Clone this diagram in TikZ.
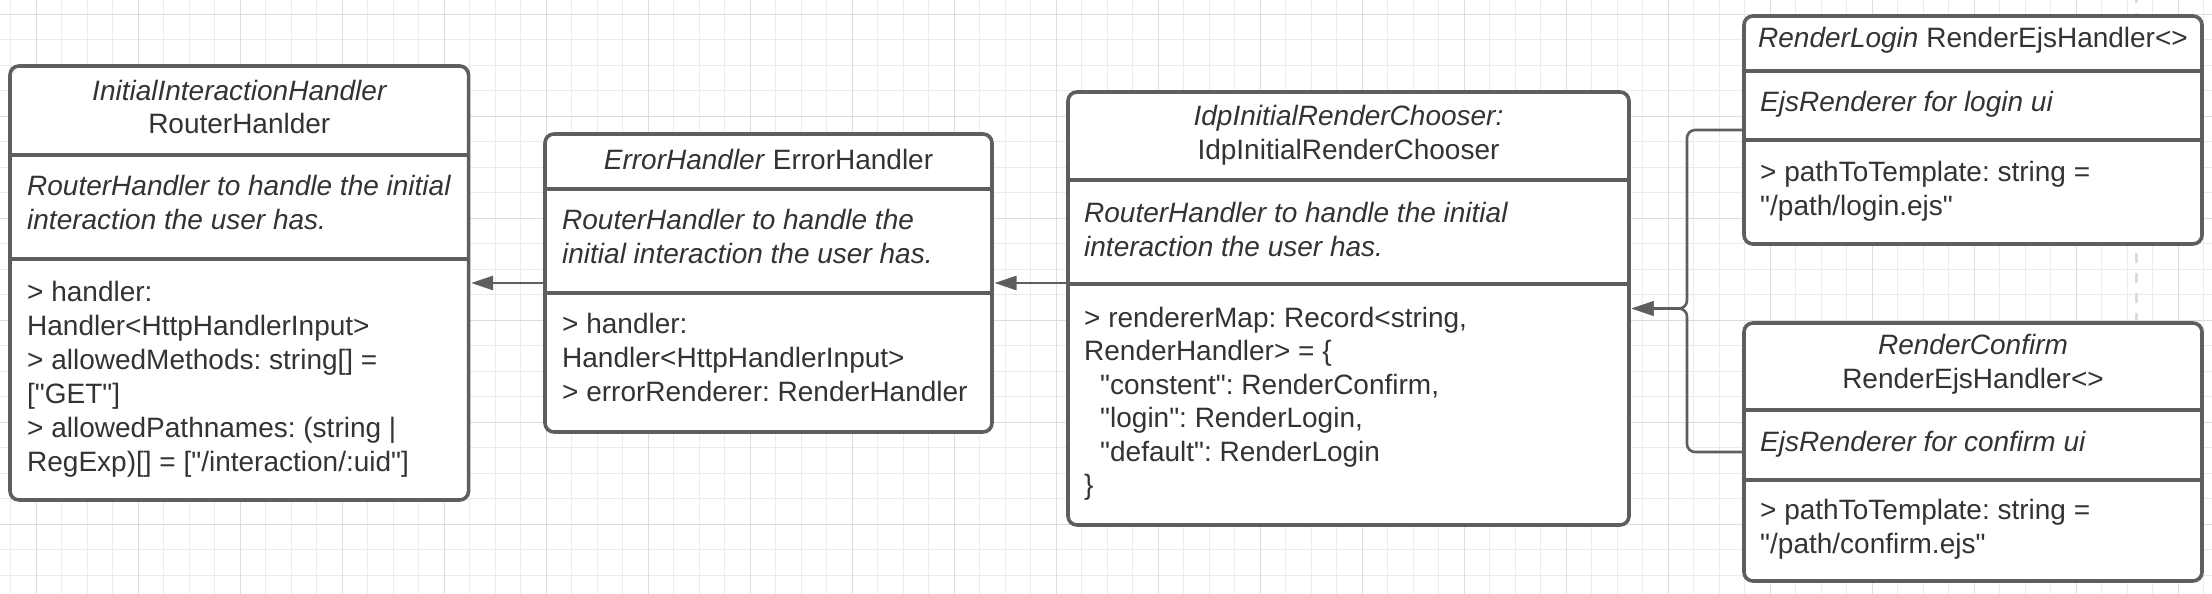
\documentclass[tikz,border=0pt]{standalone}
\usepackage{fontspec}
\newfontfamily\lsans{Liberation Sans}
\usetikzlibrary{arrows.meta}
\definecolor{linec}{HTML}{5E5E5E}
\definecolor{textc}{HTML}{333333}
\definecolor{gridminor}{HTML}{EBEBEB}
\definecolor{gridmajor}{HTML}{DCDCDC}
\newcommand{\fs}{\lsans\fontsize{28}{34}\selectfont\frenchspacing}
\begin{document}
\begin{tikzpicture}[x=1pt,y=-1pt,
 umlbox/.style={draw=linec, line width=3.6pt, fill=white, rounded corners=9pt, anchor=north west, inner sep=0pt, outer sep=0pt},
 divider/.style={draw=linec, line width=3.6pt},
 ln/.style={anchor=base west, inner sep=0pt, text=textc, font=\fs},
 ttl/.style={anchor=base, inner sep=0pt, text=textc, font=\fs},
 conn/.style={draw=linec, line width=2.6pt, shorten >=2.5pt, -{Triangle[length=22pt,width=14pt]}},
 gmin/.style={draw=gridminor, line width=1pt},
 gmaj/.style={draw=gridmajor, line width=1.2pt},
]
\fill[white] (0,0) rectangle (2212,594);
\useasboundingbox (0,0) rectangle (2212,594);
% grid
\foreach \k in {0,...,86}{\draw[gmin] ({10.7+25.5*\k},0) -- ({10.7+25.5*\k},594);}
\foreach \k in {0,...,22}{\draw[gmin] (0,{14.3+25.5*\k}) -- (2212,{14.3+25.5*\k});}
\foreach \k in {0,...,21}{\draw[gmaj] ({36.2+102*\k},0) -- ({36.2+102*\k},594);}
\foreach \k in {0,...,5}{\draw[gmaj] (0,{14.3+102*\k}) -- (2212,{14.3+102*\k});}
% faint dashed guide
\draw[draw=gridmajor, line width=3pt, dash pattern=on 10pt off 10pt] (2136,-7) -- (2136,330);

% boxes
\node[umlbox, minimum width=458.6pt, minimum height=434pt] (b1) at (10,66) {};
\node[umlbox, minimum width=447pt, minimum height=298pt] (b2) at (545,134) {};
\node[umlbox, minimum width=561pt, minimum height=433pt] (b3) at (1068,92) {};
\node[umlbox, minimum width=458pt, minimum height=228pt] (b4) at (1744,16) {};
\node[umlbox, minimum width=458pt, minimum height=258pt] (b5) at (1744,323) {};

% connectors
\draw[conn] (b2.west) -- (b1.east);
\draw[conn] (b2.east -| b3.west) -- (b2.east);
\coordinate (fork) at (1687,308.5);
\draw[conn, rounded corners=8pt] (b4.west) -| (fork) -- (b3.east);
\draw[conn, rounded corners=8pt] (b5.west) -| (fork) -- (b3.east);

% dividers
\draw[divider] (10,155) -- (468.6,155);
\draw[divider] (10,259) -- (468.6,259);
\draw[divider] (545,189) -- (992,189);
\draw[divider] (545,293) -- (992,293);
\draw[divider] (1068,180) -- (1629,180);
\draw[divider] (1068,284) -- (1629,284);
\draw[divider] (1744,71) -- (2202,71);
\draw[divider] (1744,140) -- (2202,140);
\draw[divider] (1744,410) -- (2202,410);
\draw[divider] (1744,480) -- (2202,480);

% box 1 text
\node[ttl] (b1h1) at (239.3,100) {\itshape InitialInteractionHandler};
\node[ttl] (b1h2) at (239.3,133) {RouterHanlder};
\node[ln] (b1d1) at (27,195) {\itshape RouterHandler to handle the initial};
\node[ln] (b1d2) at (27,229) {\itshape interaction the user has.};
\node[ln] (b1a1) at (27,301) {> handler:};
\node[ln] (b1a2) at (27,335) {Handler<HttpHandlerInput>};
\node[ln] (b1a3) at (27,369) {> allowedMethods: string[] =};
\node[ln] (b1a4) at (27,403) {["GET"]};
\node[ln] (b1a5) at (27,437) {> allowedPathnames: (string |};
\node[ln] (b1a6) at (27,471) {RegExp)[] = ["/interaction/:uid"]};

% box 2 text
\node[ttl] (b2h1) at (768.5,169) {\textit{ErrorHandler} ErrorHandler};
\node[ln] (b2d1) at (562,229) {\itshape RouterHandler to handle the};
\node[ln] (b2d2) at (562,263) {\itshape initial interaction the user has.};
\node[ln] (b2a1) at (562,333) {> handler:};
\node[ln] (b2a2) at (562,367) {Handler<HttpHandlerInput>};
\node[ln] (b2a3) at (562,401) {> errorRenderer: RenderHandler};

% box 3 text
\node[ttl] (b3h1) at (1348.5,125) {\itshape IdpInitialRenderChooser:};
\node[ttl] (b3h2) at (1348.5,159) {IdpInitialRenderChooser};
\node[ln] (b3d1) at (1084,222) {\itshape RouterHandler to handle the initial};
\node[ln] (b3d2) at (1084,256) {\itshape interaction the user has.};
\node[ln] (b3a1) at (1084,327) {> rendererMap: Record<string,};
\node[ln] (b3a2) at (1084,360.5) {RenderHandler> = \{};
\node[ln] (b3a3) at (1100,394) {"constent": RenderConfirm,};
\node[ln] (b3a4) at (1100,427.5) {"login": RenderLogin,};
\node[ln] (b3a5) at (1100,461) {"default": RenderLogin};
\node[ln] (b3a6) at (1084,494.5) {\}};

% box 4 text
\node[ttl] (b4h1) at (1973,48) {\textit{RenderLogin} RenderEjsHandler<>};
\node[ln] (b4d1) at (1760,111) {\itshape EjsRenderer for login ui};
\node[ln] (b4a1) at (1760,181) {> pathToTemplate: string =};
\node[ln] (b4a2) at (1760,215) {"/path/login.ejs"};

% box 5 text
\node[ttl] (b5h1) at (1973,354) {\itshape RenderConfirm};
\node[ttl] (b5h2) at (1973,388) {RenderEjsHandler<>};
\node[ln] (b5d1) at (1760,451) {\itshape EjsRenderer for confirm ui};
\node[ln] (b5a1) at (1760,519) {> pathToTemplate: string =};
\node[ln] (b5a2) at (1760,553) {"/path/confirm.ejs"};
\end{tikzpicture}
\end{document}
